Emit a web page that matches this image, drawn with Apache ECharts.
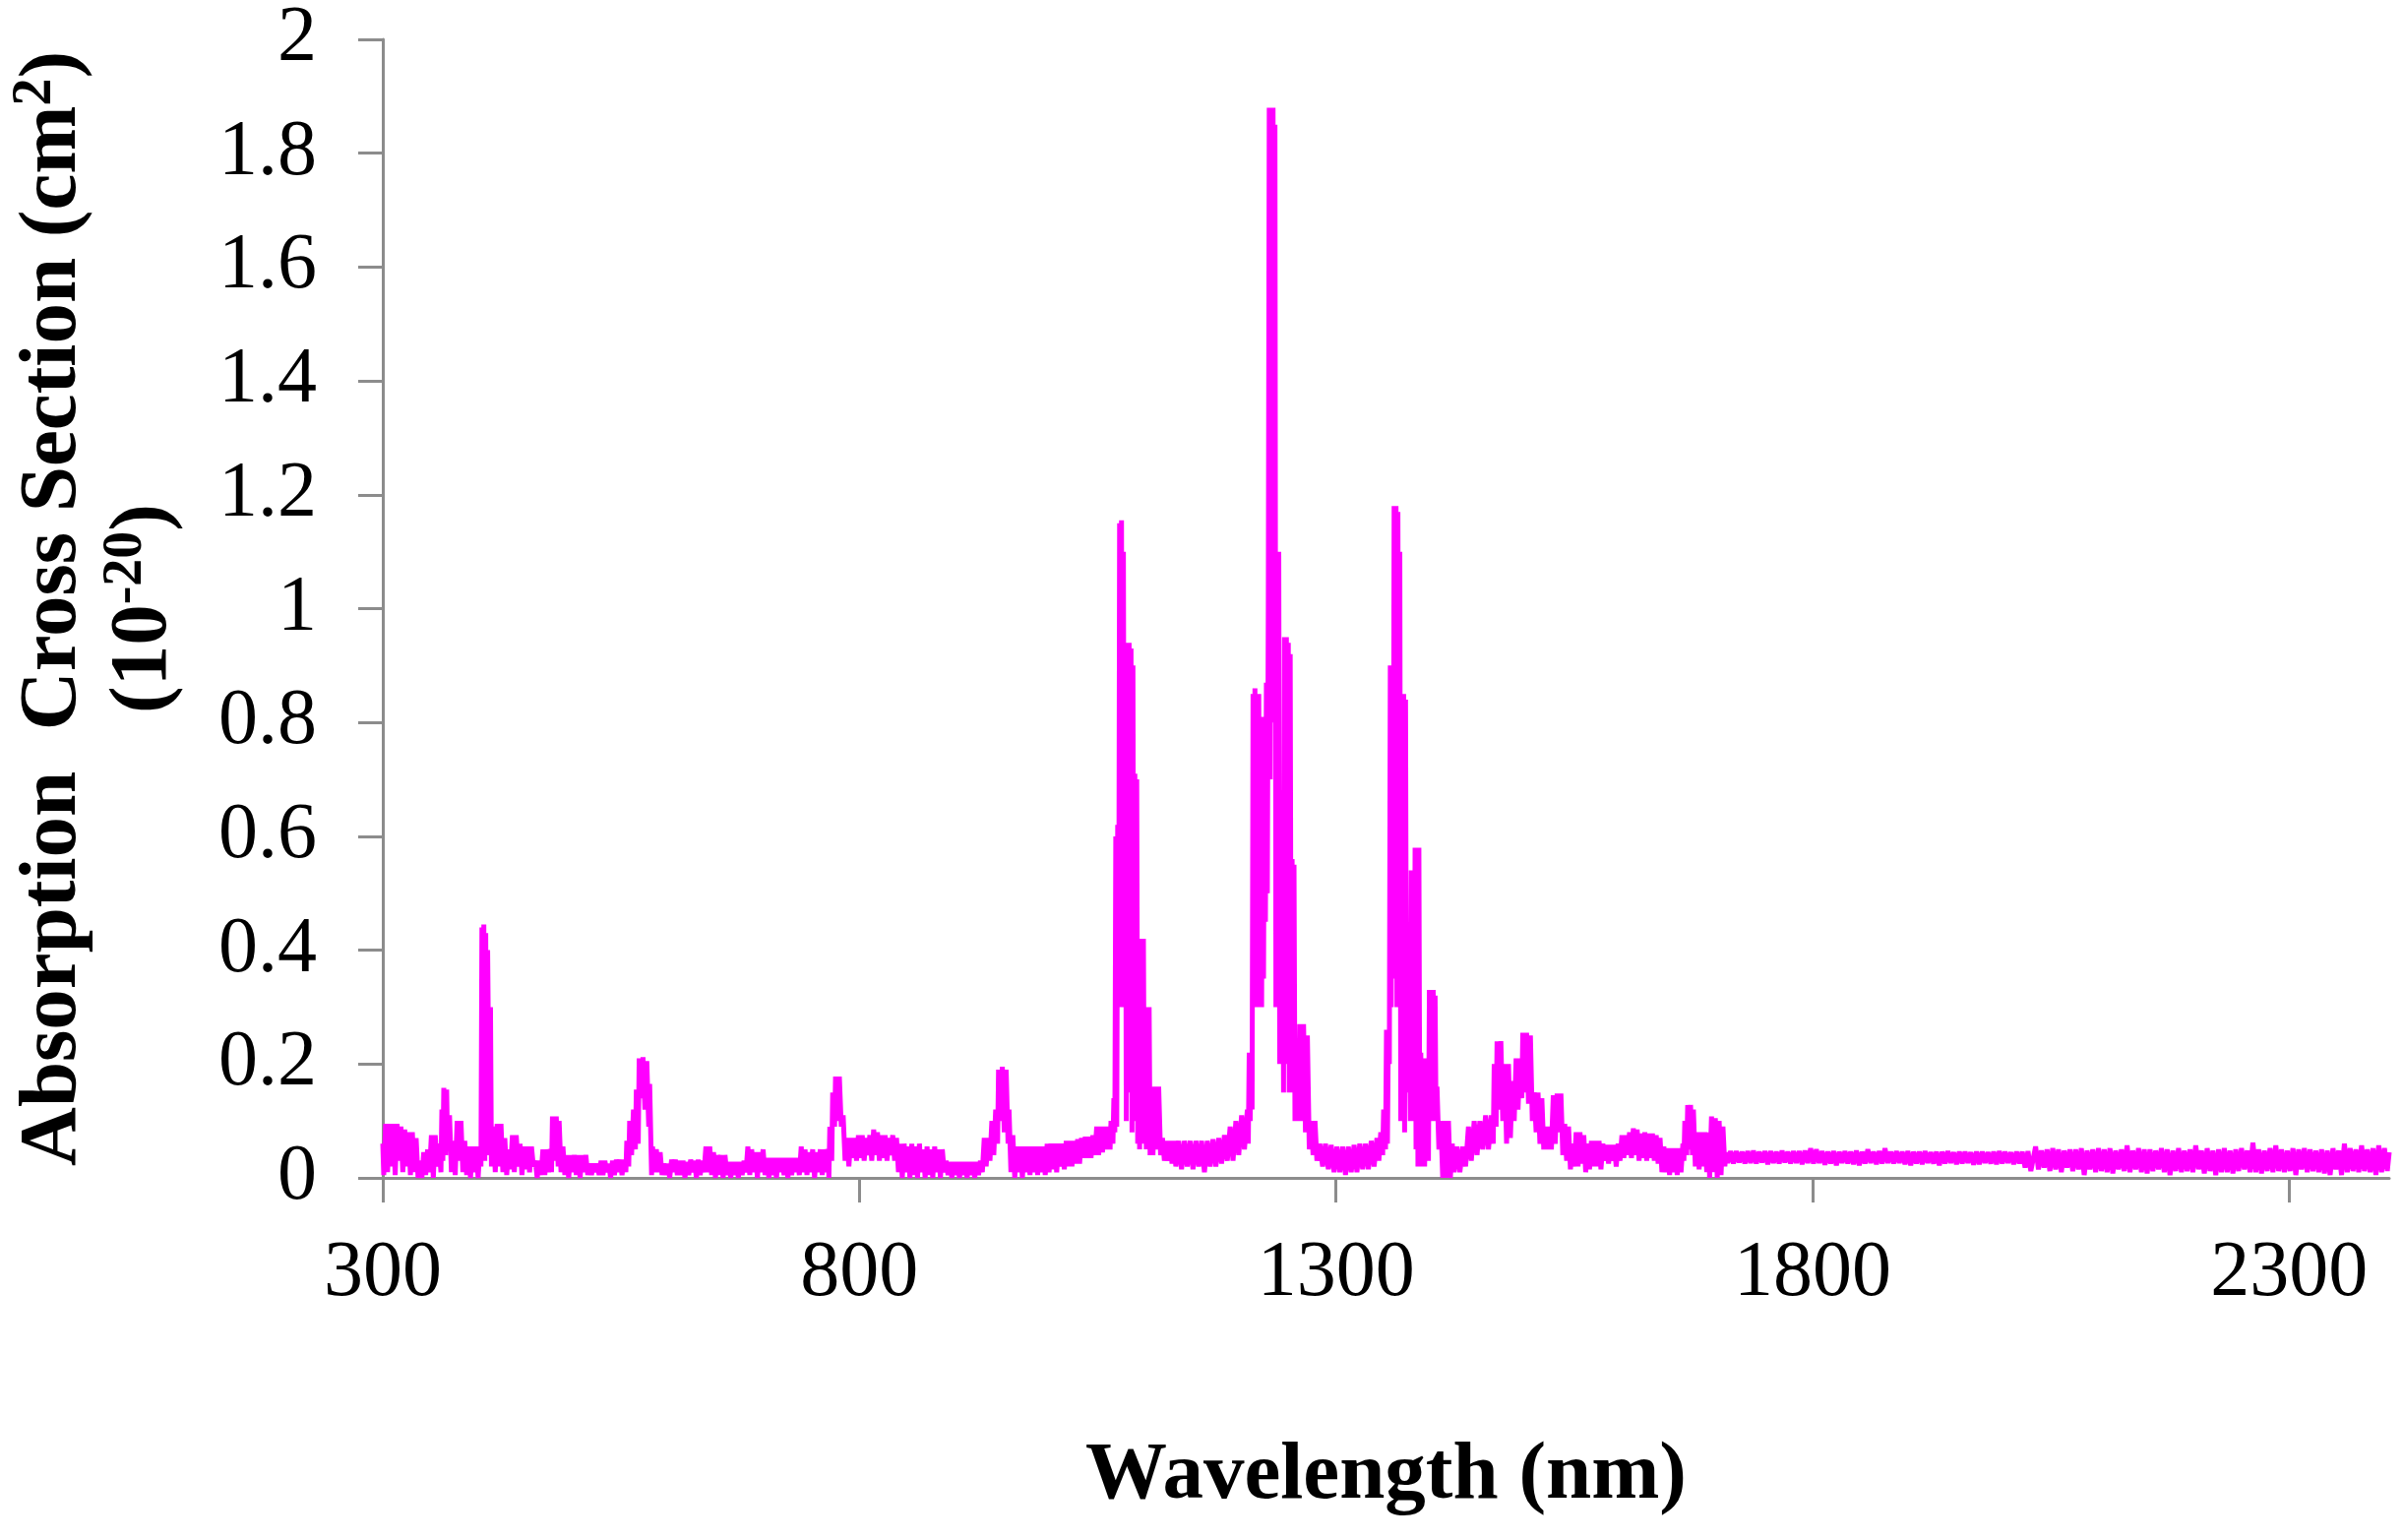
<!DOCTYPE html>
<html>
<head>
<meta charset="utf-8">
<title>Absorption Cross Section</title>
<script src="https://cdn.jsdelivr.net/npm/echarts@6/dist/echarts.min.js"></script>
<style>
  html, body { margin: 0; padding: 0; background: #fff; }
  #charts { width: 2442px; height: 1565px; }
</style>
</head>
<body>
<div id="charts"></div>
<script>
// wavelength (nm), cross section (10^-20 cm2)
var spec300to610 = [
  [300,0.06],[301,0.005],[303,0.095],[305,0.01],[307,0.095],[309,0.02],[311,0.095],[313,0.005],[315,0.095],[317,0.03],
  [319,0.09],[321,0.01],[323,0.085],[325,0.02],[327,0.08],[329,0.005],[331,0.08],[333,0.01],[335,0.07],[337,0.0],
  [339,0.03],[341,0.0],[343,0.045],[345,0.005],[347,0.05],[349,0.01],[351,0.075],[353,0.0],[355,0.075],[357,0.02],
  [359,0.06],[361,0.01],[362,0.12],[363,0.03],[364,0.158],[366,0.04],[367,0.155],[368,0.05],[370,0.11],[372,0.01],
  [374,0.065],[376,0.005],[378,0.1],[380,0.03],[382,0.1],[384,0.01],[386,0.065],[388,0.005],[390,0.055],[392,0.0],
  [394,0.055],[396,0.01],[398,0.055],[400,0.0],[402,0.055],[403,0.02],[404,0.44],[405,0.1],[406,0.445],[407,0.03],
  [408,0.43],[409,0.05],[410,0.4],[412,0.04],[413,0.3],[414,0.02],[416,0.09],[418,0.01],[420,0.095],[422,0.02],
  [424,0.095],[426,0.01],[428,0.07],[430,0.005],[432,0.05],[434,0.015],[436,0.075],[438,0.01],[440,0.075],[442,0.02],
  [444,0.06],[446,0.005],[448,0.055],[450,0.015],[452,0.055],[454,0.01],[456,0.055],[458,0.02],[460,0.03],[462,0.0],
  [464,0.03],[466,0.005],[468,0.05],[470,0.005],[472,0.05],[474,0.01],[476,0.05],[477,0.01],[478,0.108],[480,0.03],
  [482,0.108],[484,0.02],[485,0.1],[487,0.01],[489,0.055],[491,0.005],[493,0.04],[495,0.0],[497,0.04],[499,0.01],
  [501,0.04],[503,0.005],[505,0.04],[507,0.0],[509,0.04],[511,0.01],[513,0.04],[515,0.005],[517,0.025],[519,0.005],
  [521,0.025],[523,0.01],[525,0.025],[527,0.005],[529,0.03],[531,0.005],[533,0.03],[535,0.01],[537,0.025],[539,0.0],
  [541,0.03],[543,0.005],[545,0.032],[547,0.01],[549,0.032],[551,0.005],[553,0.032],[555,0.01],[556,0.065],[558,0.02],
  [559,0.1],[561,0.04],[563,0.12],[565,0.05],[566,0.155],[568,0.06],[569,0.21],[571,0.14],[573,0.212],[575,0.12],
  [577,0.205],[579,0.09],[580,0.165],[582,0.005],[583,0.055],[585,0.01],[587,0.05],[589,0.01],[591,0.045],[593,0.005],
  [595,0.025],[597,0.005],[599,0.025],[601,0.0],[603,0.032],[605,0.01],[607,0.032],[609,0.005]
];

var spec610to1035 = [
  [611,0.03],[613,0.005],[615,0.03],[617,0.0],[619,0.028],[621,0.005],[623,0.032],[625,0.01],[627,0.03],[629,0.0],
  [631,0.032],[633,0.005],[635,0.03],[637,0.01],[639,0.055],[641,0.01],[643,0.055],[645,0.005],[647,0.045],[649,0.0],
  [651,0.04],[653,0.005],[655,0.04],[657,0.0],[659,0.04],[661,0.005],[663,0.028],[665,0.0],[667,0.028],[669,0.005],
  [671,0.028],[673,0.0],[675,0.028],[677,0.005],[679,0.03],[681,0.01],[683,0.055],[685,0.005],[687,0.05],[689,0.01],
  [691,0.045],[693,0.0],[695,0.045],[697,0.01],[699,0.05],[701,0.005],[703,0.035],[705,0.0],[707,0.035],[709,0.005],
  [711,0.035],[713,0.0],[715,0.035],[717,0.01],[719,0.035],[721,0.005],[723,0.035],[725,0.0],[727,0.035],[729,0.005],
  [731,0.035],[733,0.01],[735,0.035],[737,0.005],[739,0.055],[741,0.01],[743,0.05],[745,0.005],[747,0.045],[749,0.01],
  [751,0.05],[753,0.0],[755,0.045],[757,0.01],[759,0.05],[761,0.005],[763,0.05],[765,0.01],[767,0.05],[768,0.0],
  [769,0.09],[771,0.03],[772,0.15],[774,0.09],[775,0.178],[777,0.1],[779,0.178],[781,0.09],[783,0.11],[785,0.03],
  [787,0.07],[789,0.02],[791,0.07],[793,0.035],[795,0.07],[797,0.03],[799,0.075],[801,0.035],[803,0.075],[805,0.03],
  [807,0.07],[809,0.04],[811,0.075],[813,0.03],[815,0.085],[817,0.04],[819,0.08],[821,0.03],[823,0.075],[825,0.035],
  [827,0.075],[829,0.03],[831,0.07],[833,0.04],[835,0.075],[837,0.03],[839,0.07],[841,0.01],[843,0.06],[845,0.0],
  [847,0.06],[849,0.01],[851,0.055],[853,0.0],[855,0.06],[857,0.005],[859,0.055],[861,0.0],[863,0.06],[865,0.01],
  [867,0.05],[869,0.0],[871,0.055],[873,0.005],[875,0.05],[877,0.0],[879,0.055],[881,0.01],[883,0.05],[885,0.0],
  [887,0.05],[889,0.01],[891,0.03],[893,0.005],[895,0.028],[897,0.0],[899,0.028],[901,0.005],[903,0.028],[905,0.0],
  [907,0.028],[909,0.005],[911,0.028],[913,0.0],[915,0.028],[917,0.005],[919,0.028],[921,0.0],[923,0.028],[925,0.005],
  [927,0.03],[929,0.01],[931,0.07],[933,0.02],[935,0.07],[937,0.03],[939,0.1],[941,0.04],[943,0.12],[945,0.06],
  [946,0.19],[948,0.1],[950,0.195],[952,0.08],[954,0.19],[956,0.06],[957,0.12],[959,0.01],[961,0.075],[963,0.0],
  [965,0.055],[967,0.01],[969,0.055],[971,0.0],[973,0.055],[975,0.01],[977,0.055],[979,0.005],[981,0.055],[983,0.01],
  [985,0.055],[987,0.005],[989,0.055],[991,0.01],[993,0.055],[995,0.005],[997,0.06],[999,0.01],[1001,0.06],[1003,0.015],
  [1005,0.06],[1007,0.01],[1009,0.06],[1011,0.02],[1013,0.06],[1015,0.015],[1017,0.065],[1019,0.02],[1021,0.065],[1023,0.02],
  [1025,0.065],[1027,0.025],[1029,0.068],[1031,0.025],[1033,0.07]
];

var spec1035to1550 = [
  [1035,0.035],[1037,0.072],[1039,0.035],[1041,0.072],[1043,0.035],[1045,0.075],[1047,0.04],[1049,0.09],[1051,0.04],[1053,0.09],
  [1055,0.045],[1057,0.09],[1059,0.05],[1061,0.09],[1063,0.05],[1064,0.1],[1066,0.06],[1067,0.14],[1068,0.08],[1069,0.6],
  [1070,0.09],[1071,0.62],[1072,0.3],[1073,1.15],[1074,0.4],[1075,1.155],[1076,0.3],[1077,1.1],[1078,0.32],[1079,0.9],
  [1080,0.1],[1081,0.94],[1082,0.2],[1083,0.94],[1084,0.15],[1085,0.93],[1086,0.08],[1087,0.9],[1088,0.12],[1089,0.71],
  [1090,0.1],[1091,0.7],[1092,0.06],[1093,0.42],[1094,0.05],[1095,0.42],[1097,0.08],[1098,0.42],[1099,0.06],[1100,0.3],
  [1101,0.05],[1102,0.3],[1103,0.05],[1104,0.3],[1105,0.04],[1106,0.16],[1108,0.04],[1110,0.16],[1112,0.05],[1114,0.16],
  [1116,0.04],[1118,0.07],[1120,0.03],[1122,0.065],[1124,0.03],[1126,0.065],[1128,0.025],[1130,0.065],[1132,0.02],[1135,0.065],
  [1138,0.015],[1141,0.065],[1144,0.02],[1147,0.065],[1150,0.015],[1153,0.065],[1156,0.02],[1159,0.065],[1162,0.01],[1165,0.065],
  [1168,0.02],[1171,0.068],[1174,0.02],[1177,0.07],[1180,0.025],[1183,0.075],[1186,0.03],[1189,0.09],[1192,0.03],[1195,0.1],
  [1198,0.04],[1201,0.11],[1204,0.05],[1207,0.12],[1208,0.06],[1209,0.22],[1210,0.1],[1211,0.22],[1212,0.12],[1213,0.85],
  [1214,0.3],[1215,0.86],[1216,0.35],[1217,0.85],[1218,0.3],[1219,0.85],[1220,0.4],[1221,0.8],[1222,0.3],[1223,0.81],
  [1224,0.35],[1225,0.8],[1226,0.45],[1227,0.87],[1228,0.5],[1229,1.0],[1230,1.88],[1231,0.7],[1232,1.88],[1233,0.8],
  [1234,1.88],[1235,0.85],[1236,1.85],[1237,0.3],[1238,1.1],[1239,0.3],[1240,1.1],[1241,0.2],[1242,0.68],[1243,0.25],
  [1244,0.68],[1245,0.15],[1246,0.95],[1247,0.3],[1248,0.95],[1249,0.2],[1250,0.94],[1251,0.15],[1252,0.92],[1253,0.2],
  [1254,0.56],[1255,0.15],[1256,0.55],[1257,0.1],[1258,0.2],[1259,0.12],[1260,0.2],[1261,0.1],[1262,0.27],[1264,0.1],
  [1266,0.27],[1268,0.08],[1270,0.25],[1272,0.05],[1274,0.1],[1276,0.04],[1278,0.1],[1280,0.03],[1283,0.06],[1286,0.02],
  [1289,0.06],[1292,0.015],[1295,0.058],[1298,0.01],[1301,0.055],[1304,0.01],[1307,0.055],[1310,0.005],[1313,0.055],[1316,0.01],
  [1319,0.058],[1322,0.01],[1325,0.06],[1328,0.015],[1331,0.06],[1334,0.015],[1337,0.065],[1340,0.02],[1343,0.07],[1345,0.03],
  [1347,0.08],[1349,0.04],[1350,0.12],[1352,0.05],[1353,0.26],[1354,0.06],[1355,0.26],[1356,0.2],[1357,0.9],[1358,0.3],
  [1359,0.9],[1360,0.35],[1361,1.18],[1362,0.4],[1363,1.18],[1364,0.3],[1365,1.17],[1366,0.35],[1367,1.1],[1368,0.1],
  [1369,0.85],[1370,0.2],[1371,0.85],[1372,0.08],[1373,0.84],[1374,0.2],[1375,0.28],[1376,0.15],[1377,0.28],[1378,0.1],
  [1379,0.54],[1380,0.2],[1381,0.54],[1382,0.1],[1383,0.58],[1384,0.05],[1385,0.58],[1386,0.02],[1387,0.58],[1388,0.03],
  [1389,0.22],[1390,0.02],[1391,0.21],[1393,0.02],[1395,0.21],[1397,0.03],[1398,0.33],[1399,0.12],[1400,0.33],[1401,0.1],
  [1402,0.33],[1403,0.12],[1404,0.32],[1405,0.1],[1406,0.16],[1408,0.05],[1410,0.1],[1412,0.0],[1414,0.1],[1416,0.0],
  [1418,0.1],[1420,0.0],[1422,0.06],[1424,0.01],[1427,0.055],[1430,0.01],[1433,0.055],[1436,0.02],[1439,0.09],[1442,0.03],
  [1445,0.1],[1448,0.04],[1451,0.1],[1454,0.05],[1457,0.11],[1460,0.05],[1463,0.11],[1465,0.06],[1466,0.2],[1468,0.09],
  [1469,0.24],[1471,0.12],[1473,0.24],[1475,0.1],[1477,0.2],[1479,0.06],[1481,0.2],[1483,0.07],[1485,0.17],[1487,0.1],
  [1489,0.21],[1491,0.12],[1493,0.21],[1495,0.14],[1496,0.255],[1498,0.15],[1500,0.255],[1502,0.13],[1504,0.25],[1506,0.1],
  [1508,0.15],[1510,0.08],[1512,0.15],[1514,0.06],[1516,0.14],[1518,0.05],[1520,0.09],[1522,0.05],[1524,0.09],[1526,0.05],
  [1528,0.145],[1530,0.06],[1532,0.148],[1534,0.08],[1536,0.148],[1538,0.04],[1540,0.095],[1542,0.03],[1544,0.09],[1546,0.015],
  [1548,0.06],[1550,0.02]
];

var spec1550to1710 = [
  [1552,0.08],[1554,0.02],[1556,0.08],[1558,0.025],[1560,0.075],[1562,0.01],[1564,0.06],[1566,0.015],[1568,0.065],[1570,0.02],
  [1572,0.065],[1574,0.02],[1576,0.065],[1578,0.015],[1580,0.06],[1582,0.03],[1584,0.058],[1586,0.025],[1588,0.058],[1590,0.03],
  [1592,0.058],[1594,0.02],[1596,0.06],[1598,0.03],[1600,0.075],[1602,0.035],[1604,0.075],[1606,0.04],[1608,0.08],[1610,0.035],
  [1612,0.087],[1614,0.04],[1616,0.085],[1618,0.03],[1620,0.078],[1622,0.035],[1624,0.08],[1626,0.03],[1628,0.078],[1630,0.035],
  [1632,0.078],[1634,0.03],[1636,0.075],[1638,0.025],[1640,0.07],[1642,0.01],[1644,0.055],[1646,0.01],[1648,0.052],[1650,0.005],
  [1652,0.052],[1654,0.01],[1656,0.052],[1658,0.005],[1660,0.052],[1662,0.01],[1664,0.06],[1665,0.03],[1666,0.1],[1668,0.04],
  [1669,0.128],[1671,0.05],[1672,0.128],[1674,0.04],[1675,0.12],[1677,0.02],[1679,0.08],[1681,0.015],[1683,0.08],[1685,0.02],
  [1687,0.08],[1689,0.01],[1691,0.08],[1692,0.0],[1694,0.108],[1696,0.01],[1698,0.105],[1700,0.0],[1702,0.1],[1704,0.005],
  [1706,0.09],[1708,0.02],[1709,0.045]
];

var spec1710to2405 = [
  [1711,0.026],[1714,0.047],[1717,0.025],[1720,0.047],[1723,0.027],[1726,0.046],[1729,0.025],[1732,0.047],[1735,0.026],[1738,0.048],
  [1741,0.025],[1744,0.046],[1747,0.027],[1750,0.047],[1753,0.024],[1756,0.047],[1759,0.026],[1762,0.046],[1765,0.025],[1768,0.048],
  [1771,0.027],[1774,0.046],[1777,0.025],[1780,0.047],[1783,0.026],[1786,0.047],[1789,0.024],[1792,0.048],[1795,0.026],[1798,0.052],
  [1801,0.025],[1804,0.05],[1807,0.026],[1810,0.047],[1813,0.023],[1816,0.046],[1819,0.025],[1822,0.047],[1825,0.022],[1828,0.046],
  [1831,0.026],[1834,0.047],[1837,0.025],[1840,0.046],[1843,0.024],[1846,0.048],[1849,0.022],[1852,0.046],[1855,0.025],[1858,0.05],
  [1861,0.026],[1864,0.046],[1867,0.024],[1870,0.047],[1873,0.025],[1876,0.052],[1879,0.026],[1882,0.046],[1885,0.025],[1888,0.047],
  [1891,0.026],[1894,0.046],[1897,0.024],[1900,0.047],[1903,0.022],[1906,0.046],[1909,0.025],[1912,0.046],[1915,0.024],[1918,0.047],
  [1921,0.026],[1924,0.045],[1927,0.025],[1930,0.046],[1933,0.022],[1936,0.046],[1939,0.025],[1942,0.047],[1945,0.026],[1948,0.045],
  [1951,0.024],[1954,0.046],[1957,0.025],[1960,0.046],[1963,0.026],[1966,0.045],[1969,0.023],[1972,0.046],[1975,0.024],[1978,0.046],
  [1981,0.026],[1984,0.045],[1987,0.025],[1990,0.046],[1993,0.024],[1996,0.047],[1999,0.025],[2002,0.046],[2005,0.026],[2008,0.045],
  [2011,0.024],[2014,0.046],[2017,0.025],[2020,0.046],[2023,0.018],[2026,0.047],[2029,0.012],[2031,0.01],[2034,0.055],[2037,0.015],
  [2040,0.048],[2043,0.018],[2046,0.05],[2049,0.012],[2052,0.052],[2055,0.015],[2058,0.05],[2061,0.01],[2064,0.048],[2067,0.018],
  [2070,0.05],[2073,0.012],[2076,0.05],[2079,0.015],[2082,0.052],[2085,0.005],[2088,0.048],[2091,0.015],[2094,0.05],[2097,0.01],
  [2100,0.052],[2103,0.012],[2106,0.05],[2109,0.01],[2112,0.052],[2115,0.008],[2118,0.048],[2121,0.015],[2124,0.05],[2127,0.012],
  [2130,0.057],[2133,0.01],[2136,0.048],[2139,0.015],[2142,0.052],[2145,0.01],[2148,0.05],[2151,0.008],[2154,0.05],[2157,0.012],
  [2160,0.048],[2163,0.015],[2166,0.052],[2169,0.01],[2172,0.05],[2175,0.005],[2178,0.048],[2181,0.012],[2184,0.052],[2187,0.01],
  [2190,0.048],[2193,0.012],[2196,0.05],[2199,0.01],[2202,0.057],[2205,0.015],[2208,0.048],[2211,0.008],[2214,0.052],[2217,0.012],
  [2220,0.048],[2223,0.005],[2226,0.05],[2229,0.01],[2232,0.052],[2235,0.01],[2238,0.048],[2241,0.008],[2244,0.05],[2247,0.012],
  [2250,0.052],[2253,0.015],[2256,0.048],[2259,0.01],[2262,0.062],[2265,0.01],[2268,0.05],[2271,0.008],[2274,0.048],[2277,0.012],
  [2280,0.052],[2283,0.01],[2286,0.057],[2289,0.012],[2292,0.05],[2295,0.01],[2298,0.048],[2301,0.012],[2304,0.052],[2307,0.005],
  [2310,0.05],[2313,0.015],[2316,0.052],[2319,0.01],[2322,0.05],[2325,0.012],[2328,0.048],[2331,0.01],[2334,0.05],[2337,0.008],
  [2340,0.048],[2343,0.005],[2346,0.052],[2349,0.015],[2352,0.048],[2355,0.005],[2358,0.06],[2361,0.01],[2364,0.052],[2367,0.012],
  [2370,0.05],[2373,0.01],[2376,0.057],[2379,0.012],[2382,0.05],[2385,0.01],[2388,0.052],[2391,0.005],[2394,0.057],[2397,0.01],
  [2400,0.052],[2403,0.012],[2405,0.045]
];

var spectrum = spec300to610.concat(spec610to1035, spec1035to1550, spec1550to1710, spec1710to2405);

var serif = 'Liberation Serif';
var axisGrey = '#8c8c8c';

var myChart = echarts.init(document.getElementById('charts'), null, { renderer: 'canvas' });

myChart.setOption({
    animation: false,
    backgroundColor: '#ffffff',
    grid: {
        left: 389,
        right: 14,
        top: 40,
        bottom: 368
    },
    xAxis: {
        type: 'value',
        min: 300,
        max: 2405,
        interval: 500,
        name: 'Wavelength (nm)',
        nameLocation: 'middle',
        nameGap: 262,
        nameTextStyle: {
            fontFamily: serif,
            fontWeight: 'bold',
            fontSize: 83,
            color: '#000'
        },
        axisLine: { show: true, lineStyle: { color: axisGrey, width: 3 } },
        axisTick: { show: true, inside: false, length: 25, lineStyle: { color: axisGrey, width: 3 } },
        axisLabel: {
            margin: 58,
            fontFamily: serif,
            fontSize: 80,
            color: '#000',
            showMaxLabel: false,
            formatter: function (v) { return String(v); }
        },
        splitLine: { show: false }
    },
    yAxis: {
        type: 'value',
        min: 0,
        max: 2,
        interval: 0.2,
        name: 'Absorption  Cross Section (cm{sup|2})\n(10{sup|-20})',
        nameLocation: 'middle',
        nameRotate: 90,
        nameGap: 196,
        nameTextStyle: {
            fontFamily: serif,
            fontWeight: 'bold',
            fontSize: 83,
            lineHeight: 92,
            color: '#000',
            rich: {
                sup: {
                    fontFamily: serif,
                    fontWeight: 'bold',
                    fontSize: 56,
                    lineHeight: 52,
                    verticalAlign: 'top',
                    color: '#000'
                }
            }
        },
        axisLine: { show: true, lineStyle: { color: axisGrey, width: 3 } },
        axisTick: { show: true, inside: false, length: 25, lineStyle: { color: axisGrey, width: 3 } },
        axisLabel: {
            margin: 67,
            fontFamily: serif,
            fontSize: 80,
            color: '#000',
            formatter: function (v) { return String(v); }
        },
        splitLine: { show: false }
    },
    series: [{
        name: 'cross section',
        type: 'line',
        data: spectrum,
        showSymbol: false,
        symbol: 'none',
        sampling: null,
        lineStyle: { color: '#ff00ff', width: 5 },
        z: 3
    }]
});
</script>
</body>
</html>
